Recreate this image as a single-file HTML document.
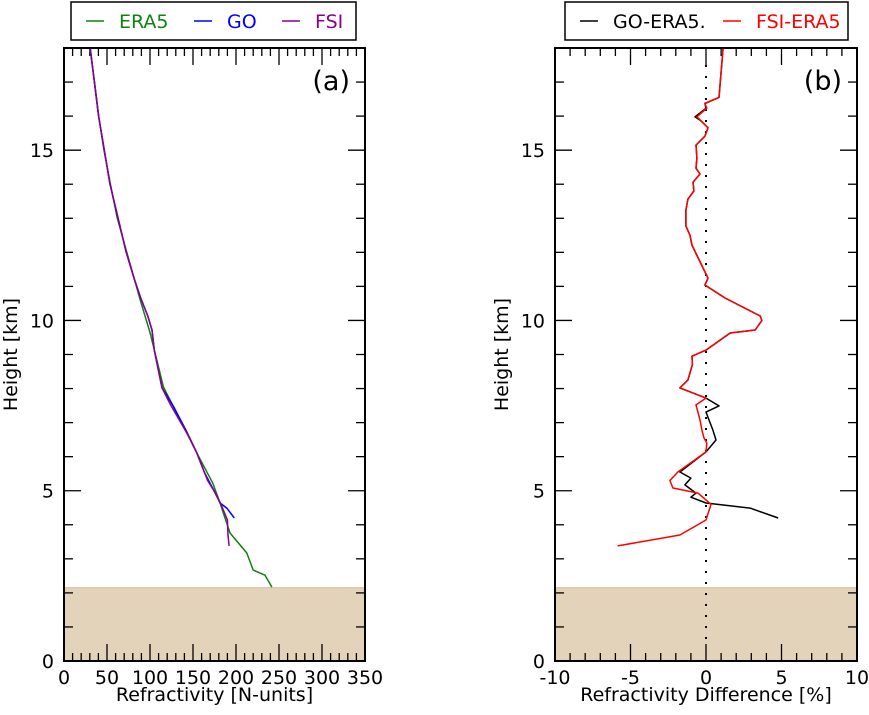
<!DOCTYPE html>
<html><head><meta charset="utf-8"><style>
body{margin:0;background:#fff;}
svg text{font-family:"DejaVu Sans","Liberation Sans",sans-serif;}
</style></head><body>
<svg id="chart" width="869" height="710" viewBox="0 0 869 710" xmlns="http://www.w3.org/2000/svg"></svg>
<script>
// Panel (a) data
const eraH = [18,17,16,15,14,13,12,11.2,10.62,9.65,8.05,7.08,6.1,5.22,4.67,3.76,3.17,2.67,2.52,2.17];
const eraN = [30.2,35.5,40.4,46.5,54,62,73,82,88.4,100,115.6,135,154.6,173,181,193,212.6,220,233.7,241.7];
const goH = [18,16,14,12,11.2,10.66,10.13,9.72,9.13,8.02,7.49,6.78,6.14,5.55,4.93,4.64,4.49,4.2];
const goN = [30.5,40.2,53.5,72.3,82,89.2,97.4,102.3,105,114,127,141.7,154,163,175.8,181.5,189.3,198];
const fsiH = [18,16,14,12,11.2,10.66,10.13,9.72,9.13,8.02,7.52,6.55,6.14,5.3,4.93,4.6,4.14,3.7,3.38];
const fsiN = [30.5,40.2,53.5,72.3,82,89.2,97.4,102.3,105,114,124,146,154,167,176,182.6,190,190.7,192];
// Panel (b) data
const goDH = [18,16.55,16.37,16.23,15.98,15.86,15.66,15.41,15.15,14.77,14.47,14.3,14.06,13.8,13.56,13.24,12.77,12.5,12.21,11.48,11.24,11.04,10.66,10.13,10.0,9.72,9.63,9.13,8.95,8.7,8.25,8.02,7.72,7.49,7.31,6.78,6.49,6.14,5.55,5.37,5.17,4.93,4.81,4.64,4.49,4.2];
const goD = [1.13,0.86,-0.07,0,-0.73,-0.33,0.13,-0.07,-0.66,-0.6,-0.66,-0.4,-0.86,-0.8,-1.2,-1.33,-1.33,-1.06,-0.93,-0.13,0.13,-0.07,1.26,3.59,3.7,3.26,1.6,0,-0.93,-0.9,-1.2,-1.73,0,0.86,0,0.46,0.66,0,-1.73,-1.0,-1.4,-0.66,-1.0,0,2.92,4.78];
const fsiDH = [18,16.55,16.37,16.23,15.98,15.86,15.66,15.41,15.15,14.77,14.47,14.3,14.06,13.8,13.56,13.24,12.77,12.5,12.21,11.48,11.24,11.04,10.66,10.13,10.0,9.72,9.63,9.13,8.95,8.7,8.25,8.02,7.72,7.52,7.08,6.78,6.55,6.4,6.14,5.55,5.3,5.08,4.93,4.6,4.14,3.7,3.38];
const fsiD = [1.13,0.86,-0.07,0.05,-0.6,-0.33,0.13,-0.07,-0.66,-0.6,-0.66,-0.4,-0.86,-0.8,-1.2,-1.33,-1.33,-1.06,-0.93,-0.13,0.13,-0.07,1.26,3.59,3.7,3.26,1.6,0,-0.93,-0.9,-1.2,-1.73,0,-0.66,-0.4,-0.27,-0.13,0.05,0,-1.86,-2.39,-2.19,-0.53,0.33,0,-1.73,-5.85];
const xTicksA = [0,50,100,150,200,250,300,350];
const xTicksB = [-10,-5,0,5,10];
const yTicks = [0,5,10,15];

const svg = document.getElementById('chart');
const NS = 'http://www.w3.org/2000/svg';
function mk(tag, attrs, parent){const e=document.createElementNS(NS,tag);for(const k in attrs)e.setAttribute(k,attrs[k]);(parent||svg).appendChild(e);return e;}

const yTop=48, yBot=661, hMax=18, FS=19;
function yS(h){return yBot-(h/hMax)*(yBot-yTop);}

function panel(x0,x1,xmin,xmax,minorStep,majorTicks,label,tag,name){
  const xS=v=>x0+(v-xmin)/(xmax-xmin)*(x1-x0);
  const g=mk('g',{});
  
  
  const band=mk('rect',{x:x0,y:yS(2.15),width:x1-x0,height:yBot-yS(2.15),fill:'#e3d3bb'},g);
  
  
  mk('line',{x1:x0,x2:x1,y1:yS(2.15),y2:yS(2.15),stroke:'#d9b58e','stroke-width':1},g);
  for(let v=xmin; v<=xmax+1e-9; v+=minorStep){
    const maj=majorTicks.some(m=>Math.abs(m-v)<1e-9);
    const L=maj?17:8, x=xS(v);
    mk('line',{x1:x,x2:x,y1:yBot,y2:yBot-L,stroke:'#000','stroke-width':1.3},g);
    mk('line',{x1:x,x2:x,y1:yTop,y2:yTop+L,stroke:'#000','stroke-width':1.3},g);
  }
  for(let h=0; h<=18; h++){
    const maj=h%5===0, L=maj?17:9, y=yS(h);
    mk('line',{x1:x0,x2:x0+L,y1:y,y2:y,stroke:'#000','stroke-width':1.3},g);
    mk('line',{x1:x1,x2:x1-L,y1:y,y2:y,stroke:'#000','stroke-width':1.3},g);
  }
  majorTicks.forEach(v=>{const t=mk('text',{x:xS(v),y:yBot+23,'font-size':FS,'text-anchor':'middle'},g);t.textContent=v;
    
    });
  yTicks.forEach(h=>{const t=mk('text',{x:x0-10,y:yS(h)+7,'font-size':FS,'text-anchor':'end'},g);t.textContent=h;
    
    });
  const xl=mk('text',{x:(x0+x1)/2,y:701,'font-size':FS,'text-anchor':'middle'},g);xl.textContent=label;
  
  
  const yl=mk('text',{x:0,y:0,'font-size':FS,'text-anchor':'middle',transform:`translate(${x0-47},${(yTop+yBot)/2}) rotate(-90)`},g);yl.textContent='Height [km]';
  
  
  const pt=mk('text',{x:x1-15,y:90,'font-size':27,'text-anchor':'end'},g);pt.textContent=tag;
  
  
  return {g,xS};
}
function line(p,xs,hs,color,name){
  const d=xs.map((v,i)=>(i?'L':'M')+p.xS(v).toFixed(1)+','+yS(hs[i]).toFixed(1)).join(' ');
  const e=mk('path',{d:d,fill:'none',stroke:color,'stroke-width':1.5,'stroke-linejoin':'round'},p.g);
  
  
}
function frame(p,x0,x1){const r=mk('rect',{x:x0,y:yTop,width:x1-x0,height:yBot-yTop,fill:'none',stroke:'#000','stroke-width':2},p.g);
  
  }

const A=panel(64,365,0,350,10,xTicksA,'Refractivity [N-units]','(a)','panel-a');
line(A,eraN,eraH,'#108010','era5-line');
line(A,goN,goH,'#0000ff','go-line');
line(A,fsiN,fsiH,'#8b008b','fsi-line');
frame(A,64,365);

const B=panel(555,857,-10,10,1,xTicksB,'Refractivity Difference [%]','(b)','panel-b');
const zl=mk('line',{x1:B.xS(0),x2:B.xS(0),y1:yTop+17,y2:yBot-17,stroke:'#000','stroke-width':2,'stroke-dasharray':'2,9'},B.g);


line(B,goD,goDH,'#000000','go-era5-line');
line(B,fsiD,fsiDH,'#ff0000','fsi-era5-line');
frame(B,555,857);

function legend(x,y,w,entries,name){
  const g=mk('g',{});
  
  
  mk('rect',{x:x,y:y,width:w,height:38,fill:'#fff',stroke:'#000','stroke-width':1.5},g);
  entries.forEach(en=>{
    const eg=mk('g',{},g);
    
    
    mk('line',{x1:en[0],x2:en[0]+18,y1:y+19,y2:y+19,stroke:en[2],'stroke-width':1.5},eg);
    const t=mk('text',{x:en[0]+33,y:y+26,'font-size':FS,fill:en[2]},eg);t.textContent=en[1];
  });
}
legend(71,2,285,[[86,'ERA5','#108010'],[194,'GO','#0000ff'],[282,'FSI','#8b008b']],'legend-a');
legend(565,2,283,[[580,'GO-ERA5.','#000000'],[723,'FSI-ERA5','#ff0000']],'legend-b');
</script>
</body></html>
